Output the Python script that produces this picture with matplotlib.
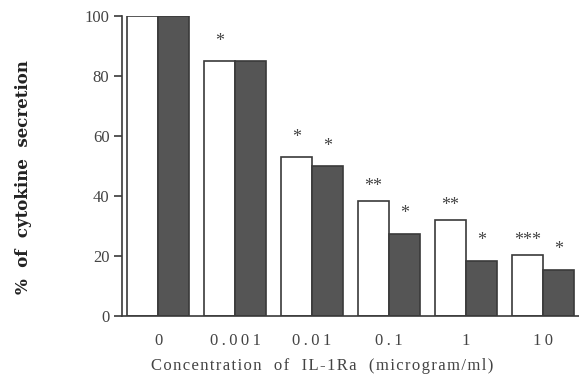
import numpy as np
import matplotlib.pyplot as plt

# concentraciones de IL-1Ra y % de secrecion de citoquinas (dos series)
conc = ['0', '0.001', '0.01', '0.1', '1', '10']
serie_a = [100, 85, 53, 38.5, 32, 20.5]
serie_b = [100, 85, 50, 27.5, 18.5, 15.5]
sig_a = ['', '*', '*', '**', '**', '***']
sig_b = ['', '', '*', '*', '*', '*']

plt.rcParams['font.family'] = ['Liberation Serif', 'DejaVu Serif']

THIN = '\u2009'
HAIR = '\u200a'


def espaciar(s, sep):
    # separa las letras como en la tipografia original
    return sep.join(s)


fig = plt.figure(figsize=(5.79, 3.91), dpi=100)
ax = fig.add_axes([0.2107, 0.1918, 0.7893, 0.7672])

x = np.arange(len(conc))
w = 0.40
ax.bar(x - w / 2, serie_a, w, color='white', edgecolor='#3a3a3a', linewidth=1.2)
ax.bar(x + w / 2, serie_b, w, color='#555555', edgecolor='#3a3a3a', linewidth=1.2)

# asteriscos de significancia sobre cada barra
for i in range(len(conc)):
    for s, xx, yy in [(sig_a[i], x[i] - w / 2, serie_a[i]),
                      (sig_b[i], x[i] + w / 2, serie_b[i])]:
        if s:
            off = 8 if len(s) == 1 else 4
            ax.annotate(s, (xx, yy), xytext=(0, off),
                        textcoords='offset points', ha='center', va='bottom',
                        fontsize=13, color='#444444')

ax.set_xlim(-0.47, len(conc) - 0.53)
ax.set_ylim(0, 100)
ax.set_yticks([0, 20, 40, 60, 80, 100])
ax.set_xticks(x)
ax.set_xticklabels([espaciar(c, THIN) for c in conc])
ax.tick_params(axis='x', length=0, pad=12, labelsize=12, colors='#444444')
ax.tick_params(axis='y', length=6, width=1.2, pad=3, labelsize=12,
               colors='#444444')
ax.tick_params(axis='y', color='#3a3a3a')
ax.spines['top'].set_visible(False)
ax.spines['right'].set_visible(False)
ax.spines['left'].set_color('#3a3a3a')
ax.spines['bottom'].set_color('#3a3a3a')
ax.spines['left'].set_linewidth(1.2)
ax.spines['bottom'].set_linewidth(1.2)

xlabel = '   '.join(espaciar(p, HAIR) for p in
                    'Concentration of IL-1Ra (microgram/ml)'.split())
fig.text(0.556, 0.064, xlabel, ha='center', va='center', fontsize=12,
         color='#444444')
fig.text(0.04, 0.547, '%  of  cytokine  secretion', rotation=90, ha='center',
         va='center', fontsize=12, fontweight='bold', color='#222222',
         family='DejaVu Serif')

plt.savefig('out.png', dpi=100)
